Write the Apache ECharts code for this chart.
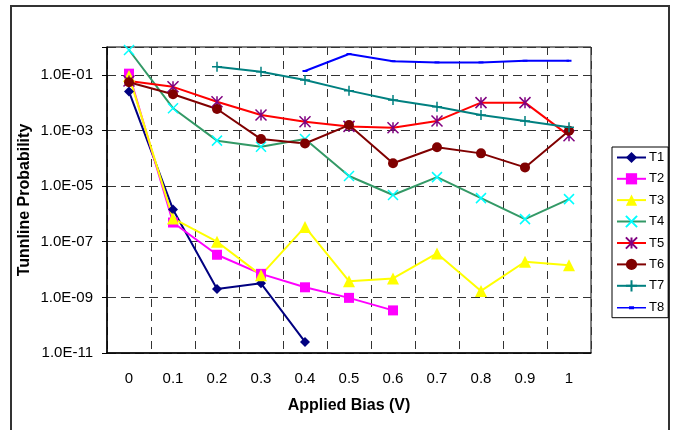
<!DOCTYPE html>
<html>
<head>
<meta charset="utf-8">
<script src="https://cdn.jsdelivr.net/npm/echarts@6/dist/echarts.min.js"></script>
<style>
  html, body { margin: 0; padding: 0; background: #fff; }
  #chart { width: 676px; height: 430px; }
</style>
</head>
<body>
<div id="chart"></div>
<script>
const biasLabels = ['0', '0.1', '0.2', '0.3', '0.4', '0.5', '0.6', '0.7', '0.8', '0.9', '1']

const t1 = [2.5e-2, 1.45e-6, 2.0e-9, 3.2e-9, 2.5e-11, null, null, null, null, null, null]
const t2 = [1.1e-1, 4.9e-7, 3.4e-8, 7.0e-9, 2.3e-9, 9.6e-10, 3.4e-10, null, null, null, null]
const t3 = [9.0e-2, 6.9e-7, 1.0e-7, 6.3e-9, 3.4e-7, 3.8e-9, 4.8e-9, 3.8e-8, 1.7e-9, 1.9e-8, 1.44e-8]
const t4 = [7.8e-1, 6.3e-3, 4.3e-4, 2.6e-4, 4.9e-4, 2.3e-5, 4.8e-6, 2.1e-5, 3.7e-6, 6.5e-7, 3.4e-6]
const t5 = [6.0e-2, 3.7e-2, 1.07e-2, 3.6e-3, 2.05e-3, 1.4e-3, 1.25e-3, 2.2e-3, 1.0e-2, 1.0e-2, 6.5e-4]
const t6 = [5.4e-2, 2.0e-2, 5.9e-3, 4.9e-4, 3.4e-4, 1.56e-3, 6.6e-5, 2.5e-4, 1.5e-4, 4.7e-5, 9.8e-4]
const t7 = [null, null, 1.95e-1, 1.3e-1, 6.5e-2, 2.7e-2, 1.24e-2, 7.1e-3, 3.6e-3, 2.2e-3, 1.3e-3]
const t8 = [null, null, null, null, 1.37e-1, 5.6e-1, 3.1e-1, 2.8e-1, 2.8e-1, 3.2e-1, 3.2e-1]

const font = 'Liberation Sans, Arial, sans-serif'

// thin line with a small dash, corners pinned so the legend does not stretch it
const dashIcon = 'path://M0,0L0.01,0L0,0.01ZM0,6.2L29,6.2L29,7.8L0,7.8ZM12,5.5L17,5.5L17,8.5L12,8.5ZM29,14L28.99,14L29,13.99Z'

function expLabel(value) {
  const e = Math.round(Math.log10(value))
  if (e >= 0) return ''
  return '1.0E-' + String(-e).padStart(2, '0')
}

function makeSeries(name, data, line, marker, symbol, size, stroke) {
  const itemStyle = stroke
    ? { color: marker, borderColor: marker, borderWidth: 1.5 }
    : { color: marker }
  return {
    name,
    type: 'line',
    data,
    symbol,
    symbolSize: size,
    showAllSymbol: true,
    connectNulls: false,
    lineStyle: { color: line, width: 2 },
    itemStyle
  }
}

const chart = echarts.init(document.getElementById('chart'))

chart.setOption({
  animation: false,
  textStyle: { fontFamily: font },
  graphic: [
    {
      type: 'rect',
      shape: { x: 11, y: 6, width: 658, height: 440 },
      style: { fill: 'none', stroke: '#333', lineWidth: 2 },
      z: 0
    }
  ],
  grid: {
    left: 107,
    top: 47,
    right: 85,
    bottom: 77,
    show: true,
    borderColor: '#000',
    borderWidth: 1
  },
  legend: {
    orient: 'vertical',
    left: 612,
    top: 147,
    padding: [4, 4, 3, 4],
    itemWidth: 29,
    itemHeight: 14,
    itemGap: 8.3,
    borderColor: '#000',
    borderWidth: 1,
    textStyle: { fontSize: 13, color: '#000', fontFamily: font, padding: [0, 0, 0, -2] },
    data: ['T1', 'T2', 'T3', 'T4', 'T5', 'T6', 'T7', { name: 'T8', icon: dashIcon }]
  },
  xAxis: {
    type: 'category',
    data: biasLabels,
    boundaryGap: true,
    name: 'Applied Bias (V)',
    nameLocation: 'middle',
    nameGap: 45,
    nameTextStyle: { fontSize: 16, fontWeight: 'bold', color: '#000', fontFamily: font },
    axisLine: { lineStyle: { color: '#000', width: 1.5 } },
    axisTick: { show: false },
    axisLabel: { color: '#000', fontSize: 15, margin: 18, interval: 0 },
    splitLine: {
      show: true,
      interval: 0,
      lineStyle: { color: '#333', width: 1, type: [8, 6] }
    }
  },
  yAxis: {
    type: 'log',
    logBase: 10,
    min: 1e-11,
    max: 1,
    interval: 2,
    name: 'Tunnline Probability',
    nameLocation: 'middle',
    nameGap: 74,
    nameMoveOverlap: false,
    nameTextStyle: { fontSize: 16, fontWeight: 'bold', color: '#000', fontFamily: font },
    axisLine: { show: true, lineStyle: { color: '#000', width: 1.5 } },
    axisTick: { show: true, length: 5, lineStyle: { color: '#000' } },
    axisLabel: { color: '#000', fontSize: 15, margin: 14, formatter: expLabel },
    minorTick: { show: false },
    splitLine: {
      show: true,
      lineStyle: { color: '#333', width: 1, type: [9, 5] }
    }
  },
  series: [
    makeSeries('T1', t1, '#000080', '#000080', 'diamond', 10),
    makeSeries('T2', t2, '#FF00FF', '#FF00FF', 'rect', 10),
    makeSeries('T3', t3, '#FFFF00', '#FFFF00', 'triangle', 12),
    makeSeries('T4', t4, '#339966', '#00FFFF', 'path://M0,0L10,10M10,0L0,10', 10, true),
    makeSeries('T5', t5, '#FF0000', '#800080', 'path://M0,0L10,10M10,0L0,10M5,0L5,10', 11, true),
    makeSeries('T6', t6, '#800000', '#800000', 'circle', 10),
    makeSeries('T7', t7, '#008080', '#008080', 'path://M5,0L5,10M0,5L10,5', 10, true),
    makeSeries('T8', t8, '#0000FF', '#0000FF', 'rect', [5, 2])
  ]
})
</script>
</body>
</html>
